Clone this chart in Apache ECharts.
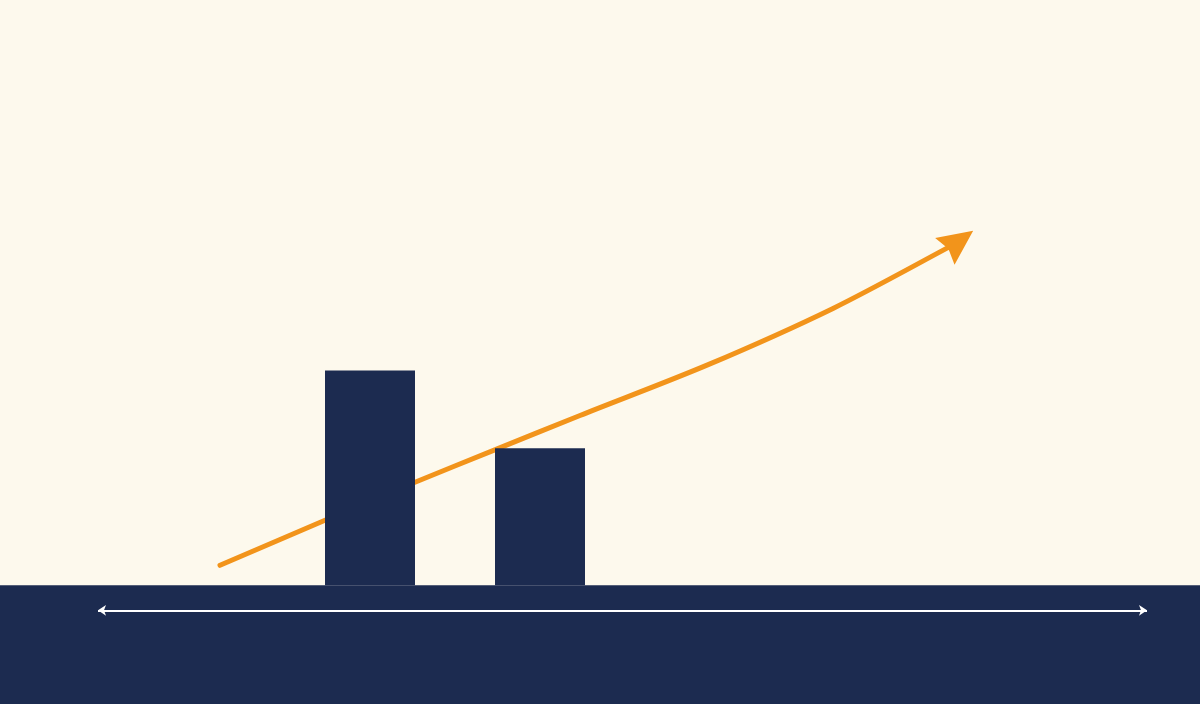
<!DOCTYPE html>
<html>
<head>
<meta charset="utf-8">
<script src="https://cdn.jsdelivr.net/npm/echarts@6/dist/echarts.min.js"></script>
<style>
  html, body { margin: 0; padding: 0; background: #fdf9ed; }
  #chart { width: 1200px; height: 704px; }
</style>
</head>
<body>
<div id="chart"></div>
<script>
// bars: x position and height
var barX = [37, 54];
var barValues = [36.7, 23.4];

// trend line, read along the orange arrow
var trendX = [22, 32.5, 41.5, 49.6, 58, 70.7, 83.3, 94.7, 95.9];
var trendY = [3.4, 11.1, 17.6, 23.2, 29.0, 37.6, 47.3, 57.6, 58.8];

// baseline band and the double arrow inside it
var bandFrom = -20.3;
var bandTo = 0;
var axisArrowX = [9.8, 114.7];
var axisArrowY = -4.3;

var navy = '#1c2b50';
var orange = '#f2941b';

var chart = echarts.init(document.getElementById('chart'));

var lineData = trendX.map(function (x, i) {
    var item = { value: [x, trendY[i]] };
    if (i === trendX.length - 1) {
        item.symbol = 'path://M0,0 L1,2 L0,1.75 L-1,2 Z';
        item.symbolSize = [33, 35];
        item.symbolRotate = -54;
        item.symbolKeepAspect = false;
    }
    return item;
});

chart.setOption({
    animation: false,
    backgroundColor: '#fdf9ed',
    grid: { left: 0, right: 0, top: 0, bottom: 0 },
    xAxis: { type: 'value', min: 0, max: 120, show: false },
    yAxis: { type: 'value', min: bandFrom, max: 100, show: false },
    series: [
        {
            type: 'line',
            z: 2,
            data: lineData,
            smooth: 0.3,
            symbol: 'none',
            showSymbol: true,
            itemStyle: { color: orange },
            lineStyle: { color: orange, width: 5, cap: 'round' },
            silent: true
        },
        {
            type: 'bar',
            z: 3,
            barWidth: 90,
            data: barX.map(function (x, i) { return [x, barValues[i]]; }),
            itemStyle: { color: navy },
            silent: true,
            markArea: {
                silent: true,
                itemStyle: { color: navy },
                data: [[{ yAxis: bandFrom }, { yAxis: bandTo }]]
            },
            markLine: {
                silent: true,
                symbol: ['arrow', 'arrow'],
                symbolSize: [8, 8],
                label: { show: false },
                lineStyle: { color: '#ffffff', width: 2, type: 'solid' },
                data: [[
                    { coord: [axisArrowX[0], axisArrowY] },
                    { coord: [axisArrowX[1], axisArrowY] }
                ]]
            }
        }
    ]
});

window.addEventListener('resize', function () {
    chart.resize();
});
</script>
</body>
</html>
